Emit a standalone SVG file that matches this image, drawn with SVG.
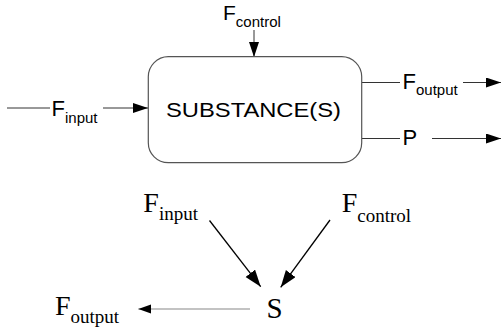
<svg xmlns="http://www.w3.org/2000/svg" width="501" height="333" viewBox="0 0 501 333">
  <defs>
    <style>
      .sans { font-family: "Liberation Sans", Arial, sans-serif; fill: #000; }
      .serif { font-family: "Liberation Serif", "Times New Roman", serif; fill: #000; }
      .wire { stroke: #333; stroke-width: 1; fill: none; }
      .wire-b { stroke: #000; stroke-width: 1.3; fill: none; }
      .wire-g { stroke: #888; stroke-width: 1.2; fill: none; }
      .box { fill: #fff; stroke: #555; stroke-width: 1.2; }
    </style>
    <marker id="ah" markerUnits="userSpaceOnUse" markerWidth="16" markerHeight="12" refX="15" refY="5" orient="auto">
      <path d="M0,0 L15,5 L0,10 Z" fill="#000"/>
    </marker>
    <marker id="ah-big" markerUnits="userSpaceOnUse" markerWidth="18" markerHeight="14" refX="17" refY="6" orient="auto">
      <path d="M0,0 L17,6 L0,12 Z" fill="#000"/>
    </marker>
    <marker id="ah-small" markerUnits="userSpaceOnUse" markerWidth="14" markerHeight="10" refX="13" refY="4.5" orient="auto">
      <path d="M0,0 L13,4.5 L0,9 Z" fill="#000"/>
    </marker>
  </defs>

  <rect width="501" height="333" fill="#fff"/>

  <!-- connectors -->
  <g id="connectors">
    <!-- block diagram flows -->
    <line class="wire" x1="7" y1="108" x2="50" y2="108"/>
    <line class="wire" x1="103" y1="108" x2="148" y2="108" marker-end="url(#ah)"/>
    <line class="wire" x1="254" y1="30" x2="254" y2="57" marker-end="url(#ah)"/>
    <line class="wire" x1="362" y1="82.5" x2="400" y2="82.5"/>
    <line class="wire" x1="463" y1="82.5" x2="501" y2="82.5" marker-end="url(#ah)"/>
    <line class="wire" x1="362" y1="138.5" x2="400" y2="138.5"/>
    <line class="wire" x1="432" y1="138.5" x2="501" y2="138.5" marker-end="url(#ah)"/>
    <!-- graph of S -->
    <line class="wire-b" x1="209.5" y1="220.5" x2="260.7" y2="286.7" marker-end="url(#ah-big)"/>
    <line class="wire-b" x1="330" y1="220" x2="280.7" y2="287.3" marker-end="url(#ah-big)"/>
    <line class="wire-g" x1="250" y1="309" x2="138.3" y2="309" marker-end="url(#ah-small)"/>
  </g>

  <!-- block diagram -->
  <g id="substance">
    <rect class="box" x="148.3" y="56.7" width="213.4" height="106" rx="20" ry="20"/>
    <text class="sans" x="166" y="117.3" font-size="21" textLength="175" lengthAdjust="spacingAndGlyphs">SUBSTANCE(S)</text>
  </g>

  <g id="label-input">
    <text class="sans" x="51.5" y="116" font-size="22">F<tspan font-size="15" dy="7">input</tspan></text>
  </g>

  <g id="label-control">
    <text class="sans" x="223" y="20" font-size="21">F<tspan font-size="15" dy="6.5">control</tspan></text>
  </g>

  <g id="label-output">
    <text class="sans" x="402.5" y="89.3" font-size="22">F<tspan font-size="15" dy="6">output</tspan></text>
  </g>

  <g id="label-p">
    <text class="sans" x="402.5" y="145" font-size="22">P</text>
  </g>

  <!-- graph of S -->
  <g id="node-input">
    <text class="serif" x="143.3" y="211.7" font-size="28">F<tspan font-size="19" dy="8.3">input</tspan></text>
  </g>

  <g id="node-control">
    <text class="serif" x="341.7" y="212.3" font-size="28">F<tspan font-size="19" dy="9.4">control</tspan></text>
  </g>

  <g id="node-output">
    <text class="serif" x="55" y="315" font-size="28">F<tspan font-size="19" dy="8.3">output</tspan></text>
  </g>

  <g id="node-s">
    <text class="serif" x="266.5" y="318.3" font-size="29">S</text>
  </g>
</svg>
